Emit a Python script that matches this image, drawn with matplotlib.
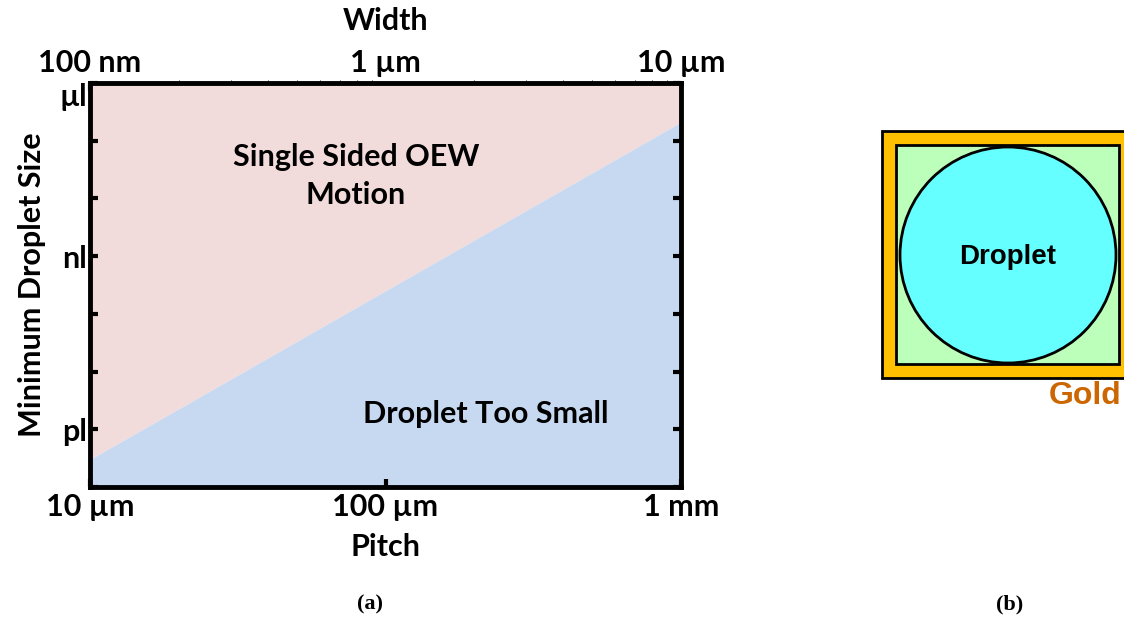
import numpy as np
import matplotlib.pyplot as plt
from matplotlib.patches import Rectangle, Circle
from matplotlib.ticker import FixedLocator, NullFormatter


# pitch (m) and the minimum droplet volume (L) that still moves
pitch = [1e-5, 1e-3]
boundary = [3.0e-13, 2.1e-7]

pitch_ticks = [1e-5, 1e-4, 1e-3]
pitch_labels = ['10 µm', '100 µm', '1 mm']
width_labels = ['100 nm', '1 µm', '10 µm']
vol_ticks = [1e-12, 1e-9, 1e-6]
vol_labels = ['pl', 'nl', 'µl']
vol_minor = [1e-13, 1e-11, 1e-10, 1e-8, 1e-7]

ylim = (1e-13, 1e-6)

pink = '#F2DCDB'
blue = '#C6D9F1'
font = 'Lato'
fs = 22

fig = plt.figure(figsize=(11.24, 6.17), dpi=100)
ax = fig.add_axes([90 / 1124, 1 - 487 / 617, 591 / 1124, 404 / 617])

ax.set_xscale('log')
ax.set_yscale('log')
ax.set_xlim(pitch[0], pitch[1])
ax.set_ylim(*ylim)

ax.fill_between(pitch, boundary, ylim[1], color=pink, lw=0)
ax.fill_between(pitch, ylim[0], boundary, color=blue, lw=0)

for s in ax.spines.values():
    s.set_linewidth(3.5)

ax.xaxis.set_major_locator(FixedLocator(pitch_ticks))
ax.set_xticklabels(pitch_labels)
ax.xaxis.set_minor_locator(FixedLocator([]))
ax.yaxis.set_major_locator(FixedLocator(vol_ticks))
ax.set_yticklabels(vol_labels)
ax.yaxis.set_minor_locator(FixedLocator(vol_minor))
ax.yaxis.set_minor_formatter(NullFormatter())

tick_kw = dict(direction='in', length=6, width=3)
ax.tick_params(axis='both', which='both', right=True, **tick_kw)
ax.tick_params(axis='x', labelsize=fs, pad=4)
ax.tick_params(axis='y', labelsize=fs, pad=2)
for lab in ax.get_xticklabels() + ax.get_yticklabels():
    lab.set_fontfamily(font)
    lab.set_fontweight('bold')
ax.get_yticklabels()[-1].set_va('top')

ax.set_xlabel('Pitch', fontsize=fs, fontweight='bold', family=font, labelpad=9)
ax.set_ylabel('Minimum Droplet Size', fontsize=fs, fontweight='bold',
              family=font, labelpad=10)

top = ax.secondary_xaxis('top')
top.xaxis.set_major_locator(FixedLocator(pitch_ticks))
top.set_xticklabels(width_labels)
top.tick_params(axis='x', direction='in', length=6, width=3, labelsize=fs, pad=4)
for lab in top.get_xticklabels():
    lab.set_fontfamily(font)
    lab.set_fontweight('bold')
top.set_xlabel('Width', fontsize=fs, fontweight='bold', family=font, labelpad=14)

ax.text(0.45, 0.77, 'Single Sided OEW\nMotion', transform=ax.transAxes,
        ha='center', va='center', fontsize=fs, fontweight='bold', family=font,
        linespacing=1.45)
ax.text(0.67, 0.18, 'Droplet Too Small', transform=ax.transAxes,
        ha='center', va='center', fontsize=fs, fontweight='bold', family=font)

fig.text(370 / 1124, 1 - 604 / 617, '(a)', ha='center', va='center',
         fontsize=16, fontweight='bold', family='Liberation Serif')

# schematic (b), in pixel units of the figure
ax2 = fig.add_axes([0, 0, 1, 1], zorder=-1)
ax2.set_xlim(0, 1124)
ax2.set_ylim(617, 0)
ax2.axis('off')
ax2.add_patch(Rectangle((882, 131), 260, 247, fc='#FFC000', ec='black', lw=2))
ax2.add_patch(Rectangle((896, 145), 223, 219, fc='#BBFFBB', ec='black', lw=2))
ax2.add_patch(Circle((1008, 255), 108, fc='#66FFFF', ec='black', lw=2))
ax2.text(1008, 257, 'Droplet', ha='center', va='center', fontsize=20,
         fontweight='bold', family='Liberation Sans')
ax2.text(1085, 396, 'Gold', ha='center', va='center', fontsize=23,
         fontweight='bold', family='Liberation Sans', color='#CC6600')
ax2.text(1010, 604, '(b)', ha='center', va='center', fontsize=16,
         fontweight='bold', family='Liberation Serif')

fig.savefig('out.png', dpi=100)
